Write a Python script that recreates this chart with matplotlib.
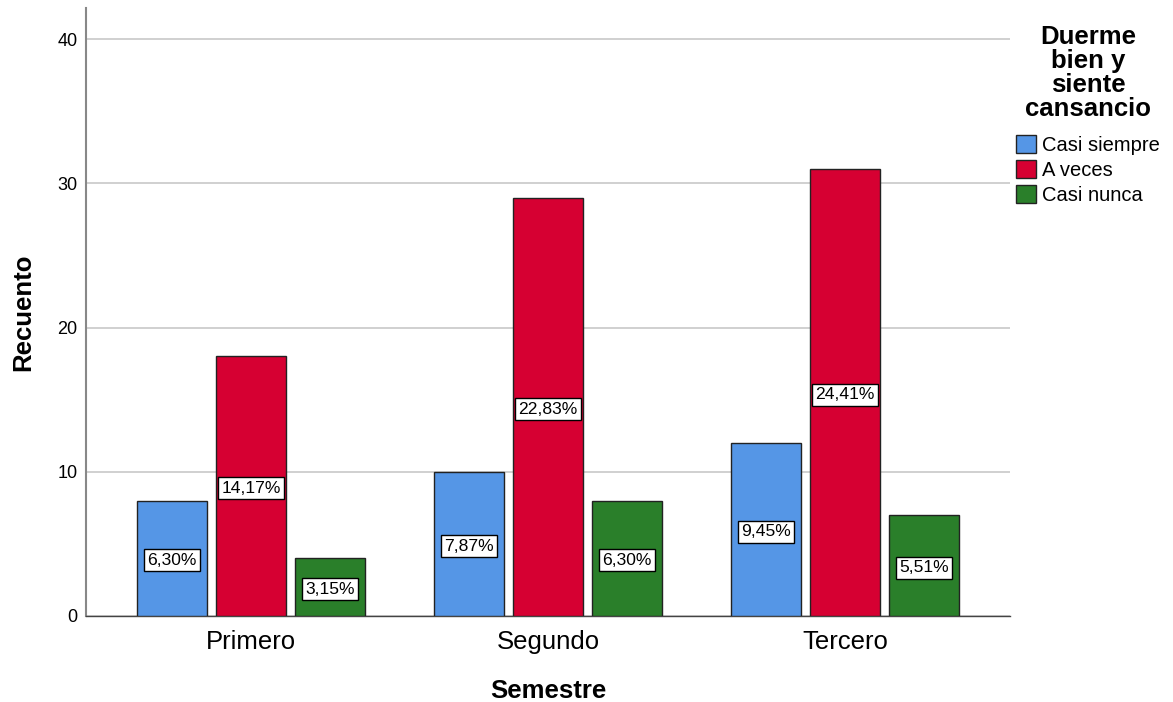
import matplotlib.pyplot as plt
import numpy as np
from matplotlib.patches import Patch

plt.rcParams['font.family'] = ['Liberation Sans', 'DejaVu Sans']

semestres = ['Primero', 'Segundo', 'Tercero']
categorias = ['Casi siempre', 'A veces', 'Casi nunca']
casi_siempre = [8, 10, 12]
a_veces = [18, 29, 31]
casi_nunca = [4, 8, 7]
series = [casi_siempre, a_veces, casi_nunca]
colores = ['#5596e6', '#d60032', '#2a7f2a']

total = sum(sum(s) for s in series)

fig = plt.figure(figsize=(11.73, 7.02), dpi=100)
ax = fig.add_axes([86 / 1173, 86 / 702, 924 / 1173, 608 / 702])

x = np.arange(len(semestres))
ancho = 0.236
paso = 0.266

for i, (vals, col) in enumerate(zip(series, colores)):
    pos = x + (i - 1) * paso
    ax.bar(pos, vals, width=ancho, color=col, edgecolor='#222222',
           linewidth=1.0, zorder=3)
    for p, v in zip(pos, vals):
        pct = f'{v / total * 100:.2f}%'.replace('.', ',')
        ax.text(p, v / 2 - 0.15, pct, ha='center', va='center', fontsize=12.6,
                zorder=4,
                bbox=dict(boxstyle='square,pad=0.2', facecolor='white',
                          edgecolor='black', linewidth=1.0))

ax.set_xlim(-0.555, 2.555)
ax.set_ylim(0, 42.15)
ax.set_yticks([0, 10, 20, 30, 40])
ax.set_xticks(x)
ax.set_xticklabels(semestres, fontsize=18.5)
ax.tick_params(axis='y', length=0, labelsize=13, pad=6)
ax.tick_params(axis='x', length=0, pad=10)
ax.yaxis.grid(True, color='#c8c8c8', linewidth=1.2, zorder=0)
ax.set_axisbelow(True)
for s in ['top', 'right']:
    ax.spines[s].set_visible(False)
ax.spines['left'].set_color('#888888')
ax.spines['left'].set_linewidth(1.5)
ax.spines['bottom'].set_color('#444444')
ax.spines['bottom'].set_linewidth(1.0)

ax.set_xlabel('Semestre', fontsize=18.5, fontweight='bold', labelpad=18)
ax.set_ylabel('Recuento', fontsize=18.5, fontweight='bold', labelpad=16)

handles = [Patch(facecolor=c, edgecolor='#222222', linewidth=1.0) for c in colores]
leg = fig.legend(handles, categorias, loc='upper left',
                 bbox_to_anchor=(1016 / 1173, 1 - 25 / 702),
                 title='Duerme\nbien y\nsiente\ncansancio',
                 title_fontproperties={'weight': 'bold', 'size': 18.5},
                 fontsize=14.5, frameon=False, handlelength=1.0,
                 handleheight=1.0, handletextpad=0.3, labelspacing=0.25,
                 borderaxespad=0, borderpad=0)
leg._legend_box.align = 'center'
leg._legend_box.sep = 10
leg.get_title().set_multialignment('center')
leg.get_title().set_linespacing(1.0)

fig.savefig('out.png', dpi=100)
